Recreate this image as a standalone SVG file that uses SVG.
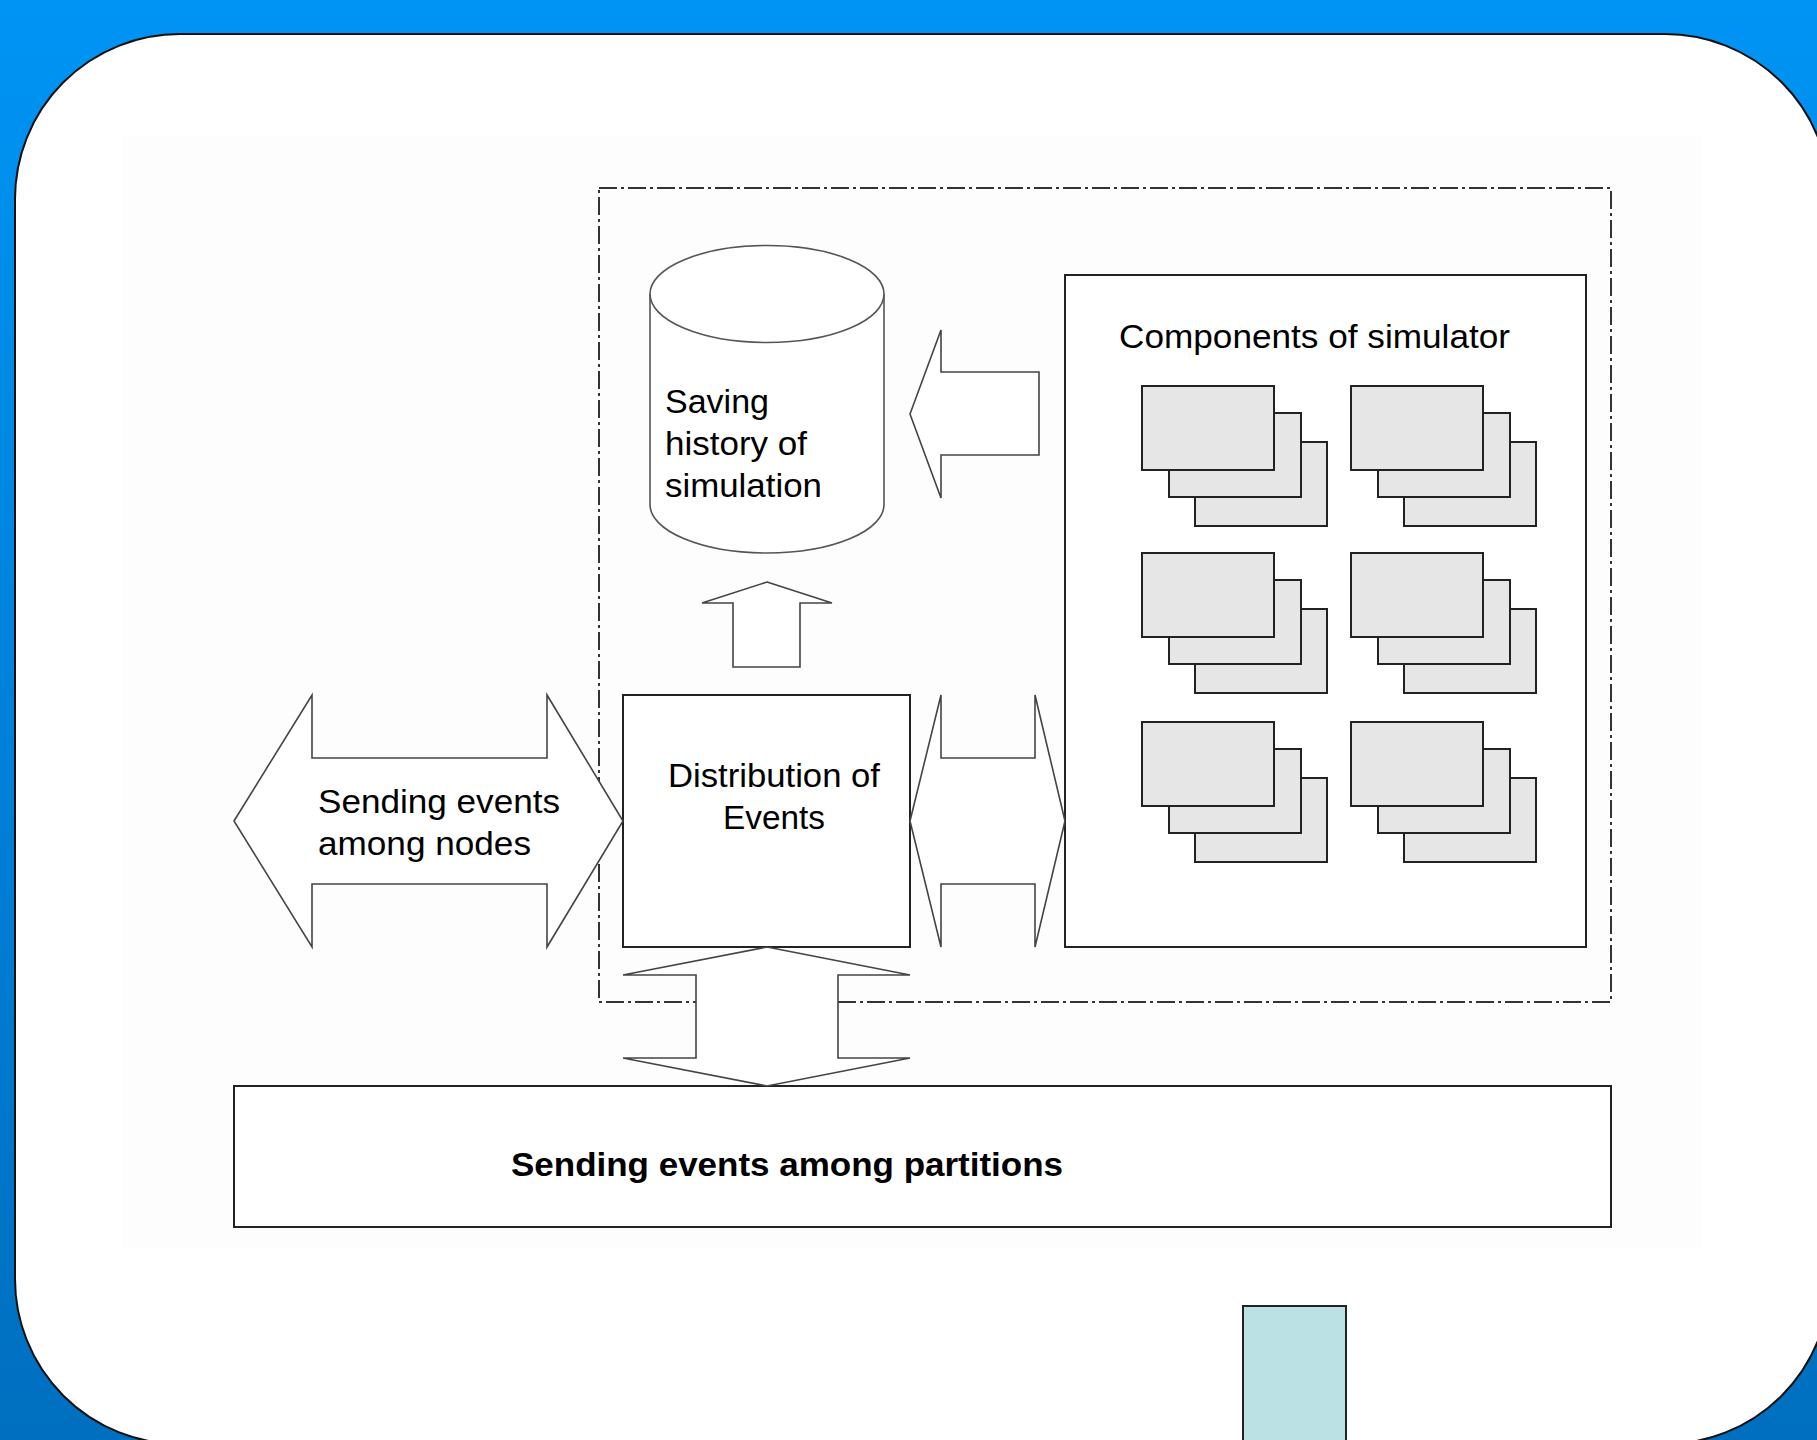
<svg xmlns="http://www.w3.org/2000/svg" width="1817" height="1440" viewBox="0 0 1817 1440">
  <defs>
    <linearGradient id="bg" x1="0" y1="0" x2="0" y2="1">
      <stop offset="0" stop-color="#0094f4"/>
      <stop offset="1" stop-color="#006fc0"/>
    </linearGradient>
    <!-- one stacked component card: three offset grey sheets -->
    <g id="stack">
      <rect x="53" y="56" width="132" height="84" class="sheet"/>
      <rect x="27" y="27" width="132" height="84" class="sheet"/>
      <rect x="0" y="0" width="132" height="84" class="sheet"/>
    </g>
  </defs>
  <style>
    .box { fill: #ffffff; stroke: #222222; stroke-width: 2; }
    .sheet { fill: #e6e6e6; stroke: #222222; stroke-width: 2; }
    .frame { fill: none; stroke: #333333; stroke-width: 2; stroke-dasharray: 18 4 3 4; }
    .arrow { fill: #ffffff; stroke: #444444; stroke-width: 1.6; stroke-linejoin: miter; }
    .cyl { fill: #ffffff; stroke: #555555; stroke-width: 1.6; }
    .lbl { font-family: "Liberation Sans", Arial, sans-serif; font-size: 34px; fill: #000000; }
    .bold { font-weight: bold; }
  </style>

  <!-- slide background and card -->
  <rect x="0" y="0" width="1817" height="1440" fill="url(#bg)"/>
  <rect x="15" y="34" width="1815" height="1410" rx="165" ry="165" fill="#ffffff" stroke="#111111" stroke-width="2"/>
  <rect x="122" y="137" width="1580" height="1111" fill="#fdfdfd"/>

  <!-- partition boundary -->
  <rect id="partition-frame" x="599" y="188" width="1012" height="814" class="frame"/>

  <!-- history storage -->
  <g id="history">
    <path class="cyl" d="M650,294 L650,504.5 A117,48.5 0 0 0 884,504.5 L884,294 A117,48.5 0 0 0 650,294 Z"/>
    <path class="cyl" fill="none" d="M650,294 A117,48.5 0 0 0 884,294"/>
    <text class="lbl" x="665" y="413" textLength="104" lengthAdjust="spacingAndGlyphs">Saving</text>
    <text class="lbl" x="665" y="455" textLength="142" lengthAdjust="spacingAndGlyphs">history of</text>
    <text class="lbl" x="665" y="497" textLength="157" lengthAdjust="spacingAndGlyphs">simulation</text>
  </g>

  <!-- simulator components -->
  <g id="components">
    <rect class="box" x="1065" y="275" width="521" height="672"/>
    <text class="lbl" x="1119" y="348" textLength="391" lengthAdjust="spacingAndGlyphs">Components of simulator</text>
    <use href="#stack" x="1142" y="386"/>
    <use href="#stack" x="1351" y="386"/>
    <use href="#stack" x="1142" y="553"/>
    <use href="#stack" x="1351" y="553"/>
    <use href="#stack" x="1142" y="722"/>
    <use href="#stack" x="1351" y="722"/>
  </g>

  <!-- event distribution -->
  <g id="distribution">
    <rect class="box" x="623" y="695" width="287" height="252"/>
    <text class="lbl" x="774" y="787" text-anchor="middle" textLength="212" lengthAdjust="spacingAndGlyphs">Distribution of</text>
    <text class="lbl" x="774" y="829" text-anchor="middle" textLength="102" lengthAdjust="spacingAndGlyphs">Events</text>
  </g>

  <!-- inter-partition channel -->
  <g id="partitions">
    <rect class="box" x="234" y="1086" width="1377" height="141"/>
    <text class="lbl bold" x="511" y="1176" textLength="552" lengthAdjust="spacingAndGlyphs">Sending events among partitions</text>
  </g>

  <!-- block arrows -->
  <g id="connectors">
    <polygon class="arrow" points="910,414 941,330 941,372 1039,372 1039,455 941,455 941,498"/>
    <polygon class="arrow" points="767,582 832,603 800,603 800,667 733,667 733,603 702,603"/>
    <polygon class="arrow" points="910,821 941,695 941,758 1035,758 1035,695 1065,821 1035,947 1035,884 941,884 941,947"/>
    <polygon class="arrow" points="234,821 312,695 312,758 547,758 547,695 623,821 547,947 547,884 312,884 312,947"/>
    <polygon class="arrow" points="767,947 910,975 838,975 838,1058 910,1058 767,1086 623,1058 696,1058 696,975 623,975"/>
    <text class="lbl" x="318" y="813" textLength="242" lengthAdjust="spacingAndGlyphs">Sending events</text>
    <text class="lbl" x="318" y="855" textLength="213" lengthAdjust="spacingAndGlyphs">among nodes</text>
  </g>

  <!-- small tinted block near the bottom -->
  <rect id="tinted-block" x="1243" y="1306" width="103" height="200" fill="#bce1e4" stroke="#222222" stroke-width="2"/>
</svg>
